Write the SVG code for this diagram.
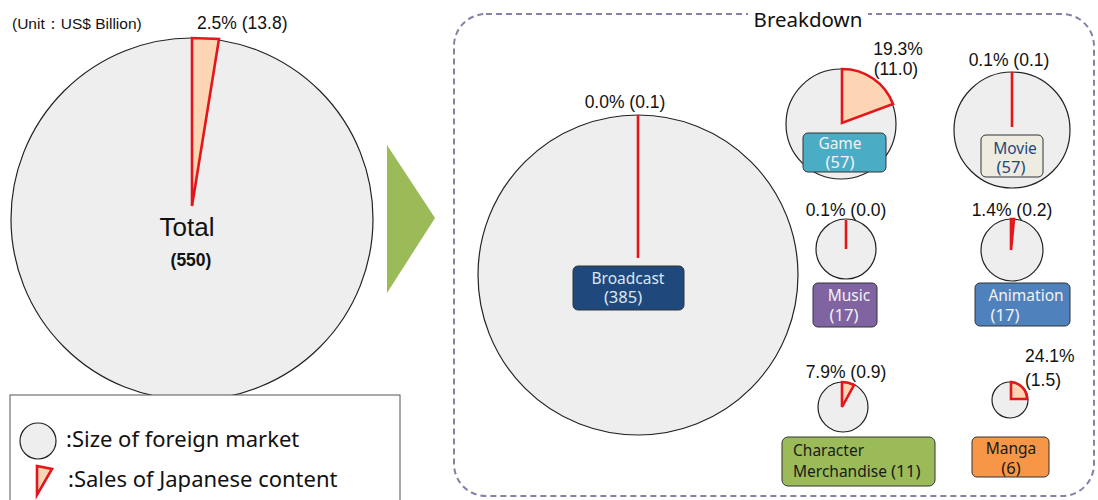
<svg xmlns="http://www.w3.org/2000/svg" width="1098" height="500" viewBox="0 0 1098 500">
  <style>
    .pie { fill: #eeeeee; stroke: #222; stroke-width: 1.2; }
    .share { fill: #fcd5b4; stroke: #e3161b; stroke-width: 2.6; stroke-linejoin: miter; }
    .sliver { stroke: #e3161b; stroke-width: 2.6; fill: none; }
    .num { font-family: "Liberation Sans", Arial, sans-serif; font-size: 17.5px; fill: #111; }
    .lbl { font-family: "Noto Sans", "DejaVu Sans", sans-serif; font-size: 15.5px; }
    .val { font-family: "Noto Sans", "DejaVu Sans", sans-serif; font-size: 16.5px; }
    .box { stroke: #333; stroke-width: 1; }
  </style>

  <rect width="1098" height="500" fill="#ffffff"/>

  <!-- overall market -->
  <g id="total">
    <text x="12" y="29" font-family="Liberation Sans, Arial, sans-serif" font-size="15.5" fill="#111">(Unit：US$ Billion)</text>
    <circle cx="192" cy="219" r="181" class="pie"/>
    <polygon points="192,206 192,38 219,39" class="share"/>
    <text x="197" y="29" class="num">2.5% (13.8)</text>
    <text x="187" y="236" text-anchor="middle" font-family="Liberation Sans, Arial, sans-serif" font-size="26" fill="#111">Total</text>
    <text x="191" y="266" text-anchor="middle" font-family="Liberation Sans, Arial, sans-serif" font-size="17.5" font-weight="bold" fill="#111">(550)</text>
  </g>

  <!-- legend -->
  <g id="legend">
    <rect x="10" y="395" width="390" height="120" fill="#ffffff" stroke="#555" stroke-width="1"/>
    <circle cx="38" cy="441" r="18" class="pie"/>
    <text x="66" y="447" font-family="Noto Sans, DejaVu Sans, sans-serif" font-size="22" fill="#111">:Size of foreign market</text>
    <polygon points="37,466 52,469 37,495" class="share"/>
    <text x="68" y="487" font-family="Noto Sans, DejaVu Sans, sans-serif" font-size="22" fill="#111">:Sales of Japanese content</text>
  </g>

  <!-- connectors -->
  <g id="connectors">
    <polygon points="387,145 435,218 387,293" fill="#9bbb59"/>
  </g>

  <!-- breakdown frame -->
  <g id="breakdown">
    <rect x="454" y="14" width="640" height="482" rx="32" ry="32" fill="none" stroke="#8a7fa8" stroke-width="2" stroke-dasharray="6 4"/>
    <rect x="748" y="6" width="120" height="24" fill="#ffffff"/>
    <text x="808" y="27" text-anchor="middle" font-family="Noto Sans, DejaVu Sans, sans-serif" font-size="20.5" fill="#111">Breakdown</text>
  </g>

  <g id="broadcast">
    <circle cx="638" cy="275" r="160" class="pie"/>
    <line x1="638" y1="115" x2="638" y2="258" class="sliver"/>
    <text x="625" y="108" text-anchor="middle" class="num">0.0% (0.1)</text>
    <rect x="573" y="266" width="111" height="44" rx="5" fill="#1f497d" class="box"/>
    <text x="628" y="284" text-anchor="middle" class="lbl" fill="#dce6f2">Broadcast</text>
    <text x="623" y="303" text-anchor="middle" class="val" fill="#dce6f2">(385)</text>
  </g>

  <g id="game">
    <circle cx="841" cy="124" r="55" class="pie"/>
    <path d="M842,123 L842,69 A54,54 0 0 1 893,104 Z" class="share"/>
    <text x="898" y="55" text-anchor="middle" class="num">19.3%</text>
    <text x="896" y="75" text-anchor="middle" class="num">(11.0)</text>
    <rect x="803" y="133" width="83" height="39" rx="5" fill="#4bacc6" class="box"/>
    <text x="840" y="149" text-anchor="middle" class="lbl" fill="#f2f2f2">Game</text>
    <text x="840" y="168" text-anchor="middle" class="val" fill="#f2f2f2">(57)</text>
  </g>

  <g id="movie">
    <circle cx="1012" cy="130" r="58" class="pie"/>
    <line x1="1012" y1="72" x2="1012" y2="127" class="sliver"/>
    <text x="1009" y="66" text-anchor="middle" class="num">0.1% (0.1)</text>
    <rect x="981" y="135" width="62" height="42" rx="5" fill="#eeece1" class="box"/>
    <text x="1015" y="154" text-anchor="middle" class="lbl" fill="#1f497d">Movie</text>
    <text x="1011" y="173" text-anchor="middle" class="val" fill="#1f497d">(57)</text>
  </g>

  <g id="music">
    <circle cx="846" cy="249" r="30" class="pie"/>
    <line x1="846" y1="220" x2="846" y2="249" class="sliver" stroke-width="3"/>
    <text x="846" y="216" text-anchor="middle" class="num">0.1% (0.0)</text>
    <rect x="813" y="283" width="64" height="44" rx="5" fill="#8064a2" class="box"/>
    <text x="849" y="301" text-anchor="middle" class="lbl" fill="#f2f2f2">Music</text>
    <text x="844" y="321" text-anchor="middle" class="val" fill="#f2f2f2">(17)</text>
  </g>

  <g id="animation">
    <circle cx="1012" cy="250" r="31" class="pie"/>
    <path d="M1011,250 L1011,219 L1014,219 Z" class="share" stroke-width="2.2"/>
    <text x="1012" y="216" text-anchor="middle" class="num">1.4% (0.2)</text>
    <rect x="975" y="283" width="95" height="43" rx="5" fill="#4f81bd" class="box"/>
    <text x="1026" y="301" text-anchor="middle" class="lbl" fill="#f2f2f2">Animation</text>
    <text x="1005" y="321" text-anchor="middle" class="val" fill="#f2f2f2">(17)</text>
  </g>

  <g id="character">
    <circle cx="843" cy="407" r="25" class="pie"/>
    <path d="M842,407 L842,382 A25,25 0 0 1 854,385 Z" class="share" stroke-width="2.2"/>
    <text x="846" y="378" text-anchor="middle" class="num">7.9% (0.9)</text>
    <rect x="782" y="437" width="153" height="49" rx="6" fill="#9bbb59" class="box"/>
    <text x="793" y="456" class="lbl" fill="#1a1a1a">Character</text>
    <text x="793" y="477" class="lbl" fill="#1a1a1a">Merchandise <tspan style="font-size:17px">(11)</tspan></text>
  </g>

  <g id="manga">
    <circle cx="1010" cy="400" r="18" class="pie"/>
    <path d="M1011,399 L1011,382 A17,17 0 0 1 1027,399 Z" class="share" stroke-width="2.2"/>
    <text x="1025" y="362" class="num">24.1%</text>
    <text x="1025" y="386" class="num">(1.5)</text>
    <rect x="972" y="437" width="77" height="40" rx="5" fill="#f79646" class="box"/>
    <text x="1011" y="454" text-anchor="middle" class="lbl" fill="#1a1a1a">Manga</text>
    <text x="1011" y="474" text-anchor="middle" class="val" fill="#1a1a1a">(6)</text>
  </g>
</svg>
